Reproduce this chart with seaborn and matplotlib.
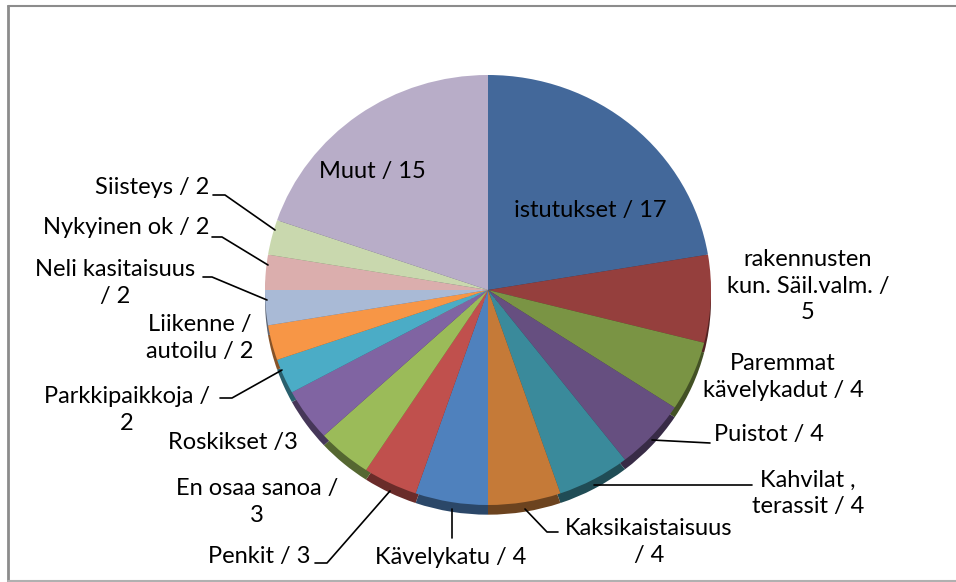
import numpy as np
import matplotlib
matplotlib.use("Agg")
import matplotlib.pyplot as plt
import matplotlib.colors as mcolors
from matplotlib.lines import Line2D
import seaborn as sns

categories = ["istutukset", "rakennusten\nkun. Säil.valm. /\n5", "Paremmat\nkävelykadut / 4",
              "Puistot / 4", "Kahvilat ,\nterassit / 4", "Kaksikaistaisuus\n/ 4",
              "Kävelykatu / 4", "Penkit / 3", "En osaa sanoa /\n3", "Roskikset /3",
              "Parkkipaikkoja /\n2", "Liikenne /\nautoilu / 2", "Neli kasitaisuus\n/ 2",
              "Nykyinen ok / 2", "Siisteys / 2", "Muut / 15"]
values = [17, 5, 4, 4, 4, 4, 4, 3, 3, 3, 2, 2, 2, 2, 2, 15]
colors = ["#43689A", "#953F3D", "#7A9444", "#664F80", "#3A8A9B", "#C57A38",
          "#4F81BD", "#C0504D", "#9BBB59", "#8064A2", "#4BACC6", "#F79646",
          "#A9BAD6", "#DBAEAD", "#C9D8AE", "#B8ADC8"]

sns.set_theme(style="white")
plt.rcParams["font.family"] = ["Lato", "DejaVu Sans"]

W, H = 956, 582
fig = plt.figure(figsize=(W / 100, H / 100), dpi=100)


def fx(px):
    return px / W


def fy(py):
    return 1 - py / H


# pie area in pixels
left, right, top, bottom = 265, 711, 75, 505
ax = fig.add_axes([fx(left), fy(bottom), (right - left) / W, (bottom - top) / H])

# darker rim under the pie for the 3D look
rim = [tuple(c * 0.55 for c in mcolors.to_rgb(col)) for col in colors]
ax.pie(values, colors=rim, startangle=90, counterclock=False, radius=1,
       center=(0, -0.045), wedgeprops=dict(linewidth=0))
ax.pie(values, colors=colors, startangle=90, counterclock=False, radius=1,
       wedgeprops=dict(linewidth=0))
ax.set_aspect("auto")
ax.set_xlim(-1, 1)
ax.set_ylim(-1, 1)
ax.axis("off")

fs = 17
txt = dict(fontsize=fs, color="black", linespacing=1.3)

# labels inside
fig.text(fx(590), fy(211), "istutukset / 17", ha="center", va="center", **txt)
fig.text(fx(372), fy(171), categories[15], ha="center", va="center", **txt)

# outside labels (x, center y, alignment)
labels = [
    (808, 286, categories[1], "center"),
    (783, 377, categories[2], "center"),
    (714, 435, categories[3], "left"),
    (808, 493, categories[4], "center"),
    (649, 542, categories[5], "center"),
    (451, 557, categories[6], "center"),
    (311, 557, categories[7], "right"),
    (257, 502, categories[8], "center"),
    (233, 442, categories[9], "center"),
    (127, 410, categories[10], "center"),
    (200, 338, categories[11], "center"),
    (115, 283, categories[12], "center"),
    (209, 228, categories[13], "right"),
    (209, 188, categories[14], "right"),
]
for x, y, s, ha in labels:
    fig.text(fx(x), fy(y), s, ha=ha, va="center", multialignment="center", **txt)

# leader lines
leaders = [
    [(652, 440), (710, 443)],
    [(594, 485), (752, 485)],
    [(525, 509), (547, 532), (558, 532)],
    [(452, 509), (452, 538)],
    [(390, 491), (327, 563), (315, 563)],
    [(282, 370), (232, 398), (220, 398)],
    [(267, 300), (212, 277), (203, 277)],
    [(268, 265), (222, 237), (212, 237)],
    [(275, 230), (225, 195), (213, 195)],
]
for pts in leaders:
    xs = [fx(p[0]) for p in pts]
    ys = [fy(p[1]) for p in pts]
    fig.add_artist(Line2D(xs, ys, color="black", lw=1.2))

# chart frame
fig.add_artist(Line2D([fx(8), fx(8)], [fy(6), fy(581)], color="#8c8c8c", lw=2))
fig.add_artist(Line2D([fx(8), 1], [fy(6), fy(6)], color="#8c8c8c", lw=1.5))
fig.add_artist(Line2D([fx(8), 1], [fy(580.5), fy(580.5)], color="#b0b0b0", lw=1.5))

fig.savefig("out.png", dpi=100)
